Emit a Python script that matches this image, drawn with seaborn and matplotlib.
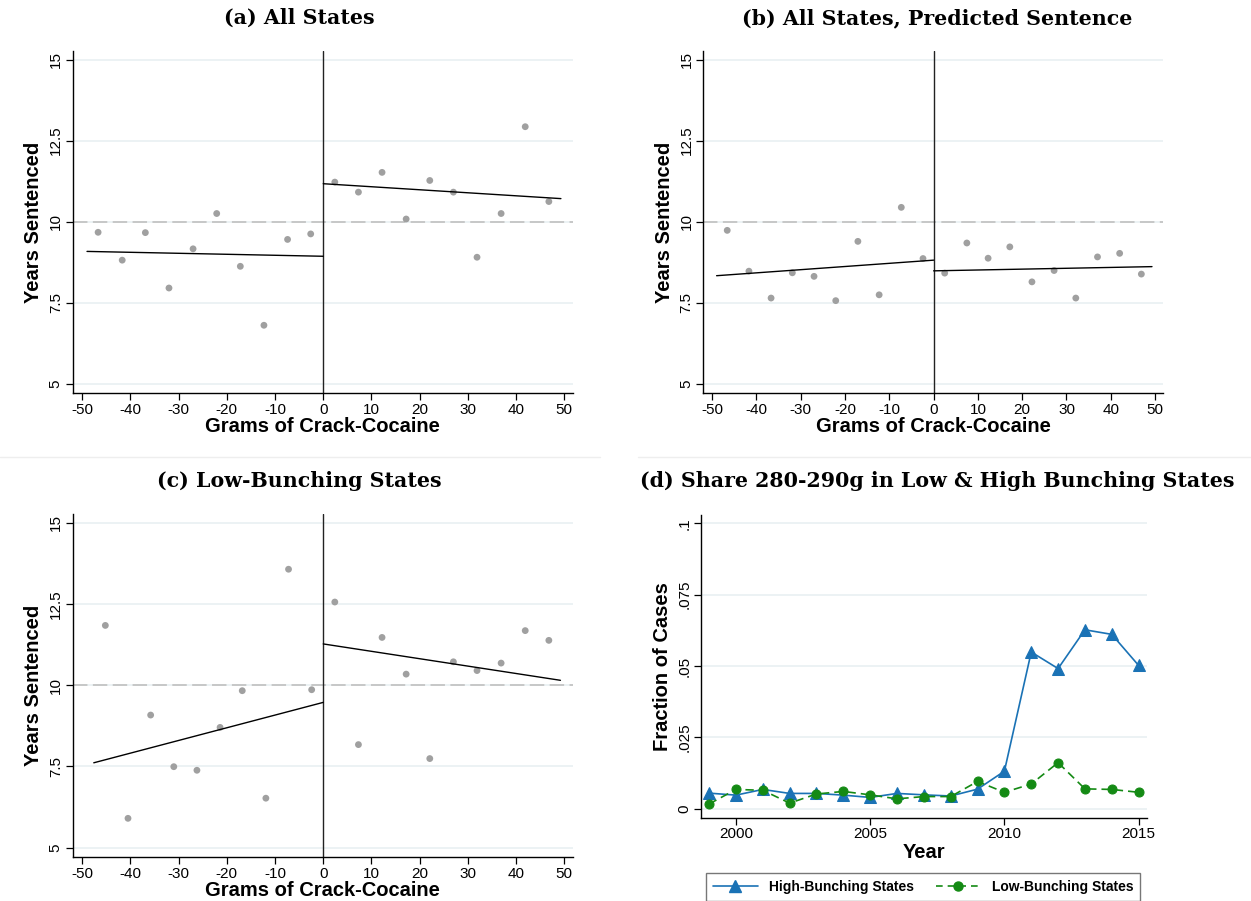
"""
plot.py - sentencing discontinuity around the 280g threshold (4 panels)
"""

import matplotlib
matplotlib.use("Agg")
import matplotlib.pyplot as plt
from matplotlib.lines import Line2D
import seaborn as sns

# --- panel (a): all states ---
a_left_x = [-46.7, -41.7, -36.9, -32.0, -27.0, -22.1, -17.2, -12.3, -7.4, -2.6]
a_left_y = [9.67, 8.81, 9.66, 7.95, 9.16, 10.25, 8.62, 6.80, 9.45, 9.62]
a_right_x = [2.4, 7.3, 12.2, 17.2, 22.1, 27.0, 31.9, 36.9, 41.9, 46.8]
a_right_y = [11.22, 10.91, 11.52, 10.08, 11.27, 10.91, 8.90, 10.25, 12.93, 10.62]
a_fit_left = ([-49.0, 0.0], [9.08, 8.93])
a_fit_right = ([0.0, 49.3], [11.17, 10.71])

# --- panel (b): all states, predicted sentence ---
b_left_x = [-46.6, -41.7, -36.7, -31.9, -27.0, -22.1, -17.1, -12.3, -7.3, -2.4]
b_left_y = [9.73, 8.47, 7.64, 8.42, 8.31, 7.56, 9.39, 7.74, 10.44, 8.86]
b_right_x = [2.5, 7.5, 12.3, 17.2, 22.2, 27.2, 32.1, 37.0, 42.0, 46.9]
b_right_y = [8.41, 9.34, 8.87, 9.22, 8.14, 8.49, 7.64, 8.91, 9.02, 8.38]
b_fit_left = ([-49.0, 0.0], [8.33, 8.81])
b_fit_right = ([0.0, 49.3], [8.48, 8.61])

# --- panel (c): low-bunching states ---
c_left_x = [-45.2, -40.5, -35.8, -31.0, -26.2, -21.4, -16.8, -11.9, -7.2, -2.4]
c_left_y = [11.84, 5.90, 9.08, 7.49, 7.38, 8.70, 9.83, 6.52, 13.57, 9.86]
c_right_x = [2.4, 7.3, 12.2, 17.2, 22.1, 27.0, 31.9, 36.9, 41.9, 46.8]
c_right_y = [12.56, 8.17, 11.47, 10.34, 7.74, 10.72, 10.45, 10.68, 11.68, 11.38]
c_fit_left = ([-47.6, 0.0], [7.61, 9.47])
c_fit_right = ([0.0, 49.2], [11.27, 10.15])

# --- panel (d): share 280-290g by year ---
years = list(range(1999, 2016))
high_share = [0.0054, 0.0047, 0.0067, 0.0053, 0.0053, 0.0047, 0.0039, 0.0053, 0.0048,
              0.0044, 0.0068, 0.0131, 0.0549, 0.0491, 0.0627, 0.0611, 0.0502]
low_share = [0.0016, 0.0067, 0.0064, 0.0019, 0.0051, 0.0060, 0.0048, 0.0034, 0.0042,
             0.0042, 0.0095, 0.0057, 0.0086, 0.0161, 0.0069, 0.0067, 0.0057]

titles = ["(a) All States", "(b) All States, Predicted Sentence",
          "(c) Low-Bunching States", "(d) Share 280-290g in Low & High Bunching States"]
x_ticks = [-50, -40, -30, -20, -10, 0, 10, 20, 30, 40, 50]
y_ticks = [5, 7.5, 10, 12.5, 15]
y_tick_labels = ["5", "7.5", "10", "12.5", "15"]
year_ticks = [2000, 2005, 2010, 2015]
share_ticks = [0, 0.025, 0.05, 0.075, 0.1]
share_tick_labels = ["0", ".025", ".05", ".075", ".1"]

sns.set_style("white")
plt.rcParams["font.family"] = ["Liberation Sans", "DejaVu Sans"]
plt.rcParams["axes.unicode_minus"] = False
for key in ["text.color", "axes.labelcolor", "xtick.color", "ytick.color"]:
    plt.rcParams[key] = "black"

GRID = "#e9f0f2"
DOT = "#a0a0a0"
BLUE = "#1a72b5"
GREEN = "#148a14"

fig = plt.figure(figsize=(12.51, 9.01), dpi=100)
axes = {
    "a": fig.add_axes([0.058, 0.5635, 0.400, 0.380]),
    "b": fig.add_axes([0.5622, 0.5635, 0.3675, 0.380]),
    "c": fig.add_axes([0.058, 0.0485, 0.400, 0.381]),
    "d": fig.add_axes([0.5604, 0.0925, 0.3562, 0.336]),
}


def style_axes(ax):
    for side in ["top", "right"]:
        ax.spines[side].set_visible(False)
    for side in ["left", "bottom"]:
        ax.spines[side].set_color("black")
        ax.spines[side].set_linewidth(1.0)
    ax.tick_params(axis="both", direction="out", length=5, width=0.9,
                   color="black", labelcolor="black", labelsize=11,
                   left=True, bottom=True, pad=2)
    for lab in ax.get_yticklabels():
        lab.set_rotation(90)
        lab.set_va("center")


def rd_panel(ax, lx, ly, rx, ry, fit_l, fit_r):
    for y in y_ticks:
        ax.axhline(y, color=GRID, lw=1.2, zorder=0)
    ax.axhline(10, color="#c4c4c4", lw=1.3, dashes=(8, 3), zorder=1)
    ax.axvline(0, color="#222222", lw=1.0, zorder=2)
    sns.scatterplot(x=lx + rx, y=ly + ry, ax=ax, color=DOT, s=24,
                    edgecolor="none", zorder=3)
    sns.lineplot(x=fit_l[0], y=fit_l[1], ax=ax, color="black", lw=1.0, zorder=4)
    sns.lineplot(x=fit_r[0], y=fit_r[1], ax=ax, color="black", lw=1.0, zorder=4)
    ax.set_xlim(-52, 51.8)
    ax.set_ylim(4.7, 15.27)
    ax.set_xticks(x_ticks)
    ax.set_yticks(y_ticks)
    ax.set_yticklabels(y_tick_labels)
    ax.set_xlabel("Grams of Crack-Cocaine", fontsize=14.5, fontweight="bold", labelpad=0)
    ax.set_ylabel("Years Sentenced", fontsize=14.5, fontweight="bold", labelpad=4)
    style_axes(ax)


rd_panel(axes["a"], a_left_x, a_left_y, a_right_x, a_right_y, a_fit_left, a_fit_right)
rd_panel(axes["b"], b_left_x, b_left_y, b_right_x, b_right_y, b_fit_left, b_fit_right)
rd_panel(axes["c"], c_left_x, c_left_y, c_right_x, c_right_y, c_fit_left, c_fit_right)

# --- panel (d) ---
ax = axes["d"]
for y in share_ticks:
    ax.axhline(y, color=GRID, lw=1.2, zorder=0)
sns.lineplot(x=years, y=high_share, ax=ax, color=BLUE, lw=1.2, marker="^",
             markersize=9, markeredgecolor=BLUE, zorder=3)
sns.lineplot(x=years, y=low_share, ax=ax, color=GREEN, lw=1.2, marker="o",
             markersize=6.5, markeredgecolor=GREEN, dashes=False, linestyle=(0, (5, 3)),
             zorder=3)
ax.set_xlim(1998.7, 2015.3)
ax.set_ylim(-0.0032, 0.103)
ax.set_xticks(year_ticks)
ax.set_yticks(share_ticks)
ax.set_yticklabels(share_tick_labels)
ax.set_xlabel("Year", fontsize=14.5, fontweight="bold", labelpad=1)
ax.set_ylabel("Fraction of Cases", fontsize=14.5, fontweight="bold", labelpad=4)
style_axes(ax)

handles = [
    Line2D([], [], color=BLUE, lw=1.2, marker="^", markersize=9),
    Line2D([], [], color=GREEN, lw=1.2, marker="o", markersize=6.5, linestyle=(0, (4, 3))),
]
fig.legend(handles, ["High-Bunching States", "Low-Bunching States"],
           loc="upper center", bbox_to_anchor=(0.738, 0.031), ncol=2,
           frameon=True, fancybox=False, edgecolor="#555555", handlelength=3.2,
           columnspacing=1.6, borderpad=0.5, borderaxespad=0,
           prop={"weight": "bold", "size": 10})

# --- panel titles ---
title_pos = [(0.239, 0.980), (0.749, 0.980), (0.239, 0.466), (0.749, 0.466)]
for (tx, ty), t in zip(title_pos, titles):
    fig.text(tx, ty, t, ha="center", va="center", fontsize=14.8,
             fontweight="bold", family=["DejaVu Serif"], color="black")

# faint separators between rows
fig.add_artist(Line2D([0.0, 0.48], [0.493, 0.493], color="#eeeeee", lw=1))
fig.add_artist(Line2D([0.51, 1.0], [0.493, 0.493], color="#eeeeee", lw=1))

fig.savefig("out.png", dpi=100)
